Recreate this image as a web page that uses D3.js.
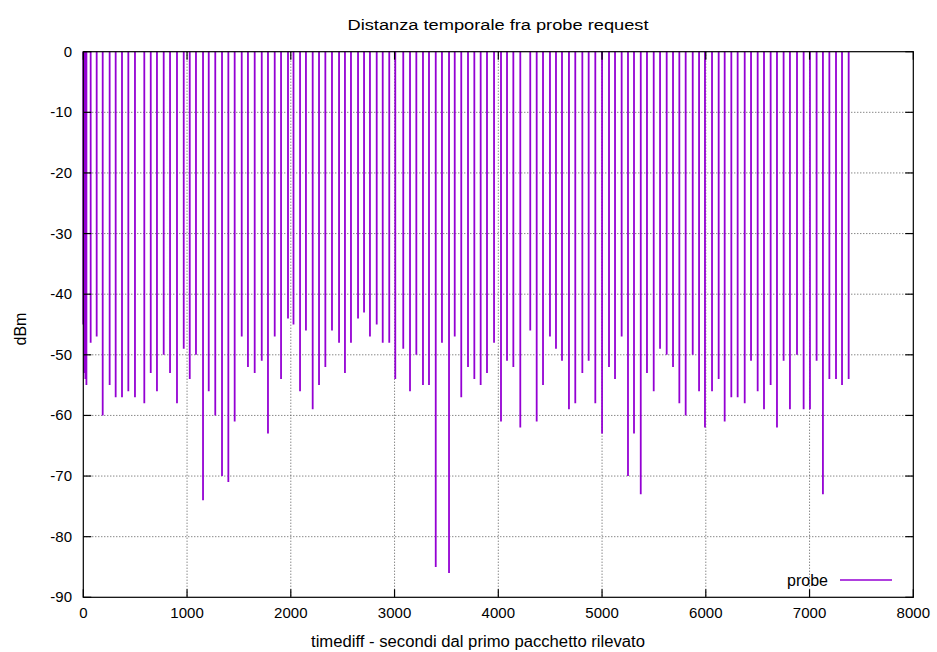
<!DOCTYPE html>
<html><head><meta charset="utf-8">
<script src="https://cdn.jsdelivr.net/npm/d3@7"></script>
<style>
body{margin:0;background:#fff;}
text{font-family:"Liberation Sans",Arial,Helvetica,sans-serif;fill:#000;}
</style></head>
<body><svg id="c" width="937" height="652"></svg>
<script>
const title = "Distanza temporale fra probe request";
const xLabel = "timediff - secondi dal primo pacchetto rilevato";
const yLabel = "dBm";
const seriesName = "probe";
const xTicks = [0,1000,2000,3000,4000,5000,6000,7000,8000];
const yTicks = [0,-10,-20,-30,-40,-50,-60,-70,-80,-90];
const times = [0,10,20,30,71,129,187,254,312,373,434,498,588,650,710,775,836,903,968,1026,1086,1154,1209,1272,1337,1398,1459,1527,1587,1652,1720,1780,1845,1906,1973,2026,2089,2146,2211,2272,2333,2397,2465,2522,2580,2648,2706,2763,2828,2886,2949,3007,3084,3149,3210,3274,3332,3397,3457,3525,3580,3643,3708,3769,3830,3891,3959,4026,4084,4145,4212,4308,4370,4431,4498,4556,4614,4681,4742,4810,4871,4935,5000,5067,5125,5189,5250,5308,5373,5433,5498,5559,5623,5684,5745,5806,5874,5935,5992,6060,6124,6182,6246,6307,6375,6436,6500,6561,6625,6686,6750,6811,6879,6943,7004,7068,7129,7191,7255,7313,7377];
const dbm = [-45,-53,-54,-55,-48,-47,-60,-55,-57,-57,-56,-57,-58,-53,-56,-50,-53,-58,-49,-54,-50,-74,-56,-60,-70,-71,-61,-47,-52,-53,-51,-63,-47,-54,-44,-45,-56,-46,-59,-55,-52,-46,-48,-53,-48,-44,-43,-47,-45,-48,-48,-54,-49,-56,-50,-55,-55,-85,-48,-86,-47,-57,-52,-54,-55,-53,-48,-61,-51,-52,-62,-46,-61,-55,-47,-49,-51,-59,-58,-53,-51,-58,-63,-52,-54,-47,-70,-63,-73,-53,-56,-49,-50,-52,-58,-60,-50,-56,-62,-56,-54,-61,-57,-57,-58,-51,-56,-59,-55,-62,-51,-59,-50,-59,-59,-51,-73,-54,-54,-55,-54];

const svg = d3.select("#c");
const L=83.3, R=913.3, T=51.7, B=597.3;
const x = d3.scaleLinear().domain([0,8000]).range([L,R]);
const y = d3.scaleLinear().domain([-90,0]).range([B,T]);
const color = "#9400D3";

// grid
const g = svg.append("g");
g.selectAll(".gx").data(xTicks.slice(1,-1)).enter().append("line")
 .attr("x1",d=>x(d)).attr("x2",d=>x(d)).attr("y1",T).attr("y2",B)
 .attr("stroke","#555").attr("stroke-width",1).attr("stroke-dasharray","1,2");
g.selectAll(".gy").data(yTicks.slice(1,-1)).enter().append("line")
 .attr("x1",L).attr("x2",R).attr("y1",d=>y(d)).attr("y2",d=>y(d))
 .attr("stroke","#555").attr("stroke-width",1).attr("stroke-dasharray","1,2");

// impulses
const data = times.map((t,i)=>({t, v:dbm[i]}));
svg.append("g").selectAll("line").data(data).enter().append("line")
 .attr("x1",d=>x(d.t)).attr("x2",d=>x(d.t)).attr("y1",y(0)).attr("y2",d=>y(d.v))
 .attr("stroke",color).attr("stroke-width",1.8);

// axes (gnuplot style, inward ticks mirrored)
const tl = 8;
const ax = svg.append("g");
ax.append("rect").attr("x",L).attr("y",T).attr("width",R-L).attr("height",B-T)
 .attr("fill","none").attr("stroke","#000").attr("stroke-width",1.2);
xTicks.forEach(d=>{
  ax.append("line").attr("x1",x(d)).attr("x2",x(d)).attr("y1",B).attr("y2",B-tl).attr("stroke","#000").attr("stroke-width",1.2);
  ax.append("line").attr("x1",x(d)).attr("x2",x(d)).attr("y1",T).attr("y2",T+tl).attr("stroke","#000").attr("stroke-width",1.2);
  ax.append("text").attr("x",x(d)).attr("y",B+21).attr("text-anchor","middle").attr("font-size",15).text(d);
});
yTicks.forEach(d=>{
  ax.append("line").attr("x1",L).attr("x2",L+tl).attr("y1",y(d)).attr("y2",y(d)).attr("stroke","#000").attr("stroke-width",1.2);
  ax.append("line").attr("x1",R).attr("x2",R-tl).attr("y1",y(d)).attr("y2",y(d)).attr("stroke","#000").attr("stroke-width",1.2);
  ax.append("text").attr("x",72).attr("y",y(d)+5).attr("text-anchor","end").attr("font-size",15).text(d);
});

svg.append("text").attr("x",498).attr("y",30).attr("text-anchor","middle").attr("font-size",15.5).attr("textLength",301).attr("lengthAdjust","spacingAndGlyphs").text(title);
svg.append("text").attr("x",478).attr("y",647).attr("text-anchor","middle").attr("font-size",16).attr("textLength",334).attr("lengthAdjust","spacingAndGlyphs").text(xLabel);
svg.append("text").attr("transform","translate(26,329) rotate(-90)").attr("text-anchor","middle").attr("font-size",16).text(yLabel);

// legend
svg.append("text").attr("x",828).attr("y",586).attr("text-anchor","end").attr("font-size",16).text(seriesName);
svg.append("line").attr("x1",840).attr("x2",892).attr("y1",580).attr("y2",580).attr("stroke",color).attr("stroke-width",1.5);
</script></body></html>
